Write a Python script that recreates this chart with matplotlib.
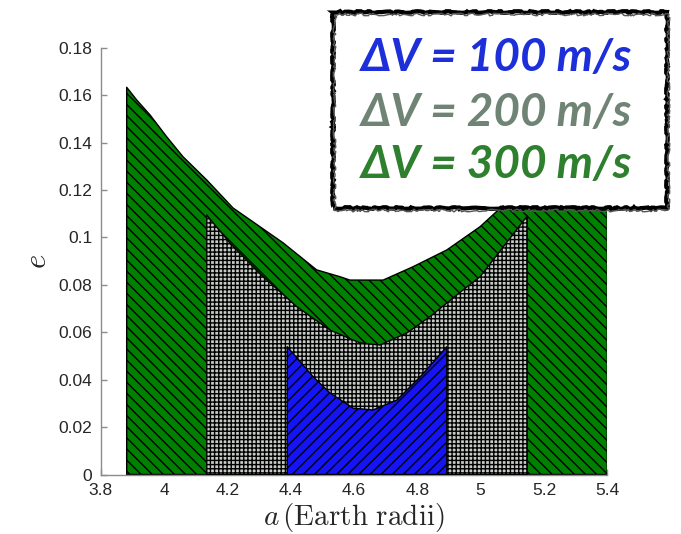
import matplotlib
matplotlib.use("Agg")
import matplotlib.pyplot as plt
from matplotlib.patches import Rectangle
import numpy as np

# Reachable (a, e) regions for three delta-V budgets
a_300 = [3.882, 3.914, 3.956, 4.008, 4.060, 4.135, 4.218, 4.303, 4.376, 4.482,
         4.556, 4.587, 4.692, 4.786, 4.893, 4.998, 5.100, 5.200, 5.300, 5.400]
e_300 = [0.1633, 0.1579, 0.1516, 0.1425, 0.1340, 0.1242, 0.1124, 0.1045, 0.0977, 0.0863,
         0.0834, 0.0820, 0.0820, 0.0876, 0.0947, 0.1045, 0.1170, 0.1310, 0.1450, 0.1600]

a_200 = [4.135, 4.208, 4.313, 4.419, 4.524, 4.619, 4.682, 4.767, 4.840, 4.944, 4.998, 5.147]
e_200 = [0.1094, 0.0976, 0.0834, 0.0708, 0.0609, 0.0555, 0.0546, 0.0597, 0.0666, 0.0778, 0.0834, 0.1090]

a_100 = [4.389, 4.471, 4.524, 4.597, 4.660, 4.735, 4.809, 4.893]
e_100 = [0.0539, 0.0412, 0.0344, 0.0280, 0.0272, 0.0314, 0.0412, 0.0539]

x_ticks = [3.8, 4.0, 4.2, 4.4, 4.6, 4.8, 5.0, 5.2, 5.4]
x_tick_labels = ["3.8", "4", "4.2", "4.4", "4.6", "4.8", "5", "5.2", "5.4"]
y_ticks = [0, 0.02, 0.04, 0.06, 0.08, 0.10, 0.12, 0.14, 0.16, 0.18]
y_tick_labels = ["0", "0.02", "0.04", "0.06", "0.08", "0.1", "0.12", "0.14", "0.16", "0.18"]

legend_labels = ["\u0394V = 100 m/s", "\u0394V = 200 m/s", "\u0394V = 300 m/s"]
legend_colors = ["#1c2fd8", "#6f8474", "#2e7f2e"]

plt.rcParams["hatch.linewidth"] = 1.0
plt.rcParams["mathtext.fontset"] = "cm"

fig = plt.figure(figsize=(6.81, 5.34), dpi=100)
ax = fig.add_axes([0.1479, 0.1114, 0.7439, 0.7993])

ax.fill_between(a_300, 0, e_300, facecolor="#007f00", edgecolor="black",
                hatch="\\\\\\", linewidth=1.0, zorder=2)
ax.fill_between(a_200, 0, e_200, facecolor="#c6cbc6", edgecolor="black",
                hatch="++++", linewidth=1.0, zorder=3)
ax.fill_between(a_100, 0, e_100, facecolor="#1414f5", edgecolor="black",
                hatch="///", linewidth=1.0, zorder=4)

ax.set_xlim(3.8, 5.4)
ax.set_ylim(0, 0.18)
ax.set_xticks(x_ticks)
ax.set_xticklabels(x_tick_labels)
ax.set_yticks(y_ticks)
ax.set_yticklabels(y_tick_labels)

for side in ("top", "right"):
    ax.spines[side].set_visible(False)
for side in ("left", "bottom"):
    ax.spines[side].set_color("#8c8c8c")
    ax.spines[side].set_linewidth(1.0)
ax.tick_params(direction="in", length=4, width=1.0, color="#8c8c8c",
               labelsize=12.5, labelcolor="#262626", pad=6)
for lbl in ax.get_xticklabels() + ax.get_yticklabels():
    lbl.set_family("Liberation Sans")

ax.set_xlabel(r"$a\,\mathrm{(Earth\ radii)}$", fontsize=21, color="#262626", labelpad=2)
ax.set_ylabel(r"$e$", fontsize=22, color="#262626", labelpad=5)

# Legend panel with a hand-drawn looking frame
box = [0.489, 0.6105, 0.4904, 0.367]
panel = Rectangle((box[0], box[1]), box[2], box[3], transform=fig.transFigure,
                  facecolor="white", edgecolor="none", zorder=10)
fig.add_artist(panel)
frame1 = Rectangle((box[0], box[1]), box[2], box[3], transform=fig.transFigure,
                   facecolor="none", edgecolor="black", linewidth=3.0, zorder=11)
frame1.set_sketch_params(scale=0.8, length=40, randomness=20)
fig.add_artist(frame1)
frame2 = Rectangle((box[0] + 0.002, box[1] - 0.003), box[2], box[3], transform=fig.transFigure,
                   facecolor="none", edgecolor="#555555", linewidth=1.0, zorder=11)
frame2.set_sketch_params(scale=1.2, length=25, randomness=30)
fig.add_artist(frame2)

y_rows = [534 - 58, 534 - 113, 534 - 165]
for label, color, yp in zip(legend_labels, legend_colors, y_rows):
    fig.text(497 / 681, yp / 534, label, color=color, fontsize=33,
             fontweight="bold", fontstyle="italic", family=["Lato", "DejaVu Sans"],
             ha="center", va="center", zorder=12)

fig.savefig("out.png", dpi=100)
